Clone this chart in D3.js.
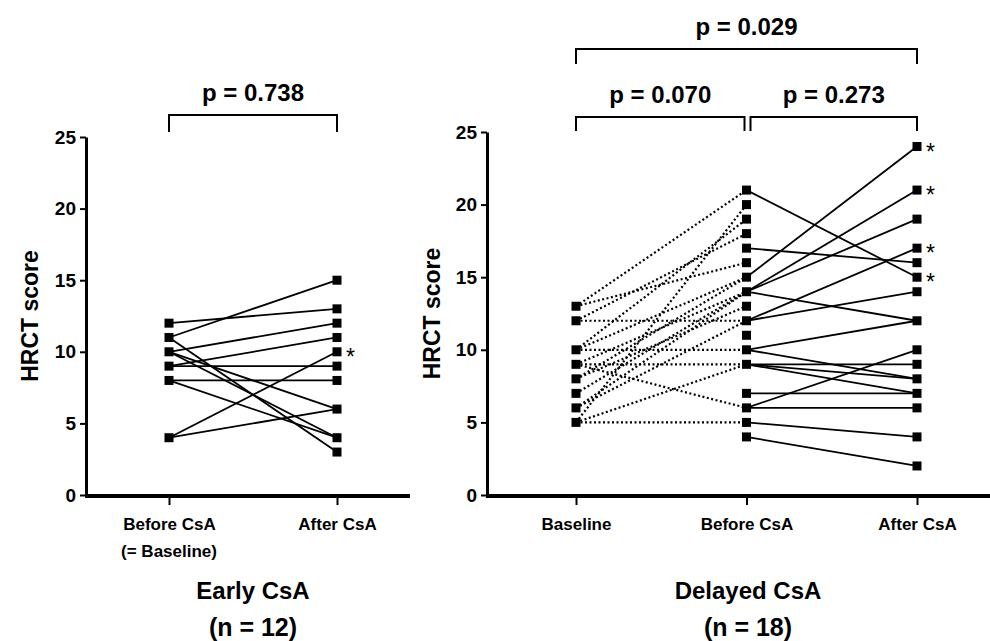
<!DOCTYPE html>
<html>
<head>
<meta charset="utf-8">
<script src="https://cdn.jsdelivr.net/npm/d3@7"></script>
<style>
  body { margin: 0; background: #fff; }
  text { font-family: "Liberation Sans", Arial, sans-serif; font-weight: bold; fill: #000; }
</style>
</head>
<body>
<svg width="990" height="641"></svg>
<script>
// ---- data ----
let yTicks = [0, 5, 10, 15, 20, 25];

let earlyCats = ["Before CsA", "After CsA"];
// [before, after] per patient
let earlyPairs = [[12, 13], [11, 15], [11, 3], [10, 12], [10, 6], [10, 4], [9, 11], [9, 9], [8, 8], [8, 4], [4, 10], [4, 6]];
let earlyBefore = [12, 11, 10, 9, 8, 4];
let earlyAfter = [15, 13, 12, 11, 10, 9, 8, 6, 4, 3];
let earlyStars = [10];

let delayedCats = ["Baseline", "Before CsA", "After CsA"];
let delayedBaseline = [13, 12, 10, 9, 8, 7, 6, 5];
let delayedBefore = [21, 20, 19, 18, 17, 16, 15, 14, 13, 12, 11, 10, 9, 7, 6, 5, 4];
let delayedAfter = [24, 21, 19, 17, 16, 15, 14, 12, 10, 9, 8, 7, 6, 4, 2];
// baseline -> before (dotted)
let delayedPairsA = [[13, 21], [13, 16], [12, 12], [12, 18], [10, 19], [10, 15], [10, 10], [9, 14], [9, 9], [9, 6],
  [8, 13], [8, 15], [7, 14], [6, 12], [6, 14], [5, 20], [5, 9], [5, 5]];
// before -> after (solid)
let delayedPairsB = [[21, 15], [17, 16], [15, 24], [14, 21], [14, 19], [14, 12], [12, 17], [12, 14], [10, 12], [10, 8],
  [9, 9], [9, 8], [9, 7], [7, 7], [6, 10], [6, 6], [5, 4], [4, 2]];
let delayedStars = [24, 21, 17, 15];

let svg = d3.select("svg");

let drawPanel = (opt) => {
  let g = svg.append("g");
  let y = d3.scaleLinear().domain([0, 25]).range([495, opt.top]);
  let x = d3.scalePoint().domain(opt.cats).range(opt.xr);

  // y axis
  let yAxis = d3.axisLeft(y).tickValues(yTicks).tickSize(6).tickSizeOuter(0).tickPadding(4);
  let ya = g.append("g").attr("transform", "translate(" + opt.x0 + ",0)").call(yAxis);
  ya.select(".domain").attr("stroke-width", 3);
  ya.selectAll(".tick line").attr("stroke-width", 2);
  ya.selectAll("text").style("font-size", "19px");

  // x axis line
  g.append("line").attr("x1", opt.x0 - 1).attr("x2", opt.x1).attr("y1", y(0) + 1).attr("y2", y(0) + 1)
    .attr("stroke", "#000").attr("stroke-width", 4);
  let xAxis = d3.axisBottom(x).tickSize(8).tickPadding(13);
  let xa = g.append("g").attr("transform", "translate(0," + (y(0) + 2) + ")").call(xAxis);
  xa.select(".domain").remove();
  xa.selectAll(".tick line").attr("stroke-width", 2);
  xa.selectAll("text").style("font-size", "17px");

  // y label
  g.append("text").attr("transform", "translate(" + opt.labX + "," + y(12.5) + ") rotate(-90)")
    .attr("text-anchor", "middle").style("font-size", "23px").text("HRCT score");

  return { g: g, x: x, y: y };
};

let drawSegments = (p, c0, c1, pairs, dotted) => {
  p.g.append("g").selectAll("line").data(pairs).enter().append("line")
    .attr("x1", p.x(c0)).attr("x2", p.x(c1))
    .attr("y1", (d) => p.y(d[0])).attr("y2", (d) => p.y(d[1]))
    .attr("stroke", "#000").attr("stroke-width", dotted ? 2.2 : 1.8)
    .attr("stroke-dasharray", dotted ? "2,2.5" : null);
};

let drawMarkers = (p, cat, vals) => {
  p.g.append("g").selectAll("rect").data(vals).enter().append("rect")
    .attr("x", p.x(cat) - 4.5).attr("y", (d) => p.y(d) - 4.5)
    .attr("width", 9).attr("height", 9).attr("fill", "#000");
};

let drawStars = (p, cat, vals) => {
  p.g.append("g").selectAll("text").data(vals).enter().append("text")
    .attr("x", p.x(cat) + 9).attr("y", (d) => p.y(d) + 13)
    .style("font-size", "23px").style("font-weight", "normal").text("*");
};

let bracket = (xa, xb, yTop, yBot, label) => {
  svg.append("path").attr("d", "M" + xa + "," + yBot + "V" + yTop + "H" + xb + "V" + yBot)
    .attr("fill", "none").attr("stroke", "#000").attr("stroke-width", 2);
  svg.append("text").attr("x", (xa + xb) / 2).attr("y", yTop - 14).attr("text-anchor", "middle")
    .style("font-size", "24px").text(label);
};

// ---- Early CsA ----
let left = drawPanel({ cats: earlyCats, xr: [169, 337], x0: 86, x1: 410, top: 137, labX: 38 });
drawSegments(left, earlyCats[0], earlyCats[1], earlyPairs, false);
drawMarkers(left, earlyCats[0], earlyBefore);
drawMarkers(left, earlyCats[1], earlyAfter);
drawStars(left, earlyCats[1], earlyStars);
left.g.append("text").attr("x", left.x(earlyCats[0])).attr("y", 557).attr("text-anchor", "middle")
  .style("font-size", "17px").text("(= Baseline)");
left.g.append("text").attr("x", 253).attr("y", 599).attr("text-anchor", "middle").style("font-size", "24px").text("Early CsA");
left.g.append("text").attr("x", 253).attr("y", 636).attr("text-anchor", "middle").style("font-size", "25px").text("(n = 12)");
bracket(left.x(earlyCats[0]), left.x(earlyCats[1]), 115, 132, "p = 0.738");

// ---- Delayed CsA ----
let right = drawPanel({ cats: delayedCats, xr: [576, 917], x0: 487, x1: 992, top: 132, labX: 440 });
drawSegments(right, delayedCats[0], delayedCats[1], delayedPairsA, true);
drawSegments(right, delayedCats[1], delayedCats[2], delayedPairsB, false);
drawMarkers(right, delayedCats[0], delayedBaseline);
drawMarkers(right, delayedCats[1], delayedBefore);
drawMarkers(right, delayedCats[2], delayedAfter);
drawStars(right, delayedCats[2], delayedStars);
right.g.append("text").attr("x", 748).attr("y", 599).attr("text-anchor", "middle").style("font-size", "24px").text("Delayed CsA");
right.g.append("text").attr("x", 748).attr("y", 636).attr("text-anchor", "middle").style("font-size", "25px").text("(n = 18)");
bracket(right.x(delayedCats[0]), right.x(delayedCats[2]), 49, 64, "p = 0.029");
bracket(right.x(delayedCats[0]), right.x(delayedCats[1]) - 2, 117, 131, "p = 0.070");
bracket(right.x(delayedCats[1]) + 4, right.x(delayedCats[2]), 117, 131, "p = 0.273");
</script>
</body>
</html>
